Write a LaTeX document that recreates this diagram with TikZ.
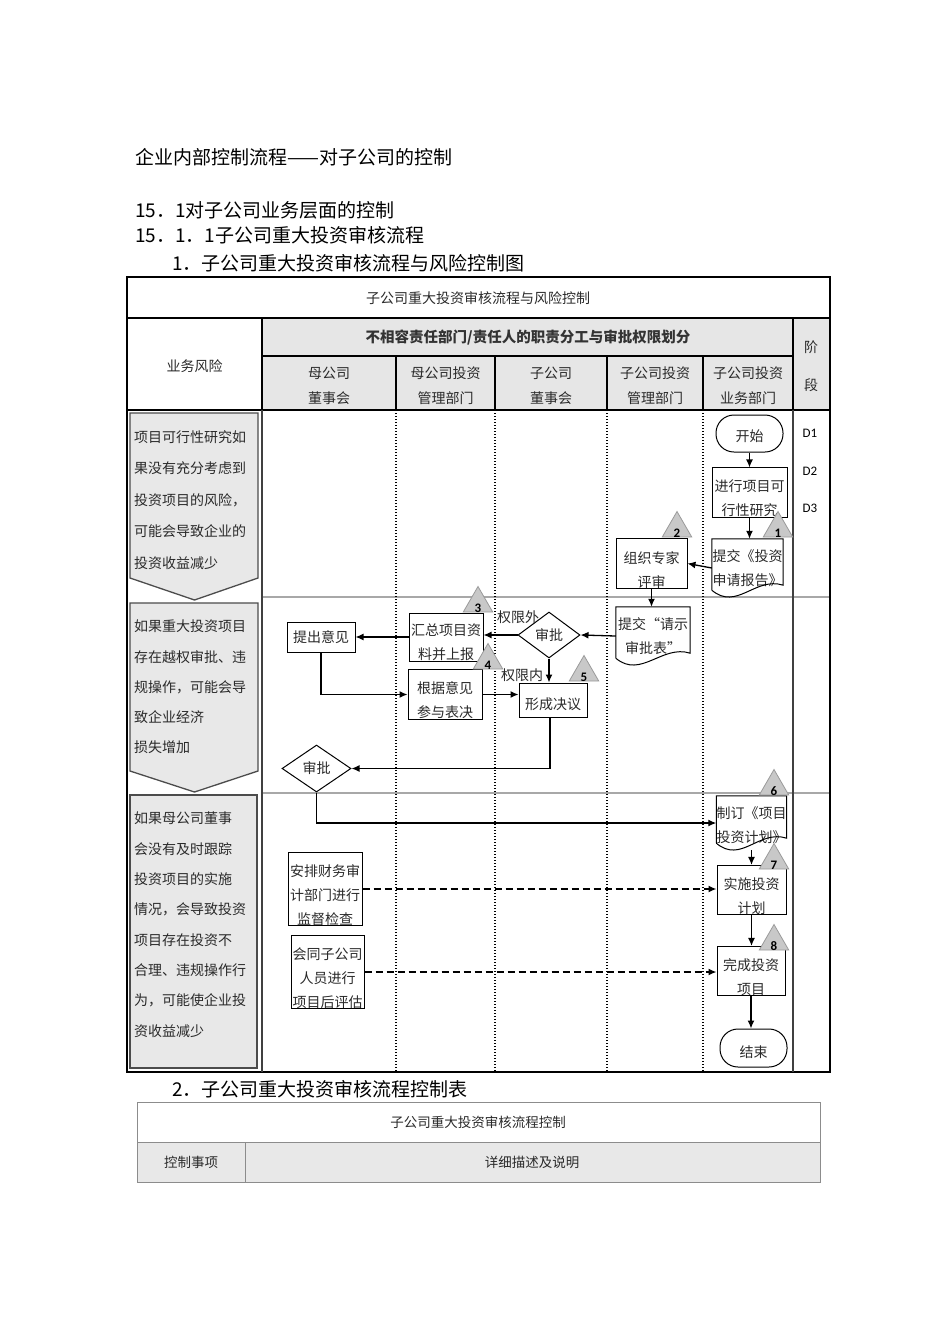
\documentclass[tikz,border=0pt]{standalone}
\usepackage{fontspec}
\setmainfont{Noto Sans CJK SC}
\newfontfamily\calib{Carlito}
\usetikzlibrary{shapes.geometric,arrows.meta}
\definecolor{hdr}{HTML}{E6E6E6}
\definecolor{riskfill}{HTML}{E8E8E8}
\definecolor{trifill}{HTML}{C8C8C8}
\definecolor{tridraw}{HTML}{9A9A9A}
\definecolor{txt}{HTML}{2A2A2A}
\definecolor{gline}{HTML}{A8A8A8}
\newcommand\fs[2]{\fontsize{#1}{#2}\selectfont}
\newcommand\vsh[1]{\rule{0pt}{#1pt}}
\newcommand\docdraw[1]{%
  \draw[line width=1pt] ([yshift=7pt]#1.south west) -- (#1.north west) -- (#1.north east)
    -- ([yshift=12pt]#1.south east)
    .. controls ([xshift=-28pt,yshift=21pt]#1.south east) and ([xshift=25pt,yshift=-14pt]#1.south west)
    .. ([yshift=7pt]#1.south west);}
\begin{document}
\begin{tikzpicture}[x=1pt,y=-1pt,
  every node/.style={inner sep=0pt},
  heading/.style={anchor=west, font=\fs{19}{19}, text=black},
  cell/.style={align=center, font=\fs{14}{25}, text=txt},
  box/.style={draw, line width=1pt, fill=white, align=center, font=\fs{14}{24}, text=txt},
  docnode/.style={align=center, font=\fs{14}{24}, text=txt},
  term/.style={box, rounded corners=18pt},
  dia/.style={diamond, draw, line width=1pt, fill=white, font=\fs{14}{14}, text=txt},
  tri/.style={regular polygon, regular polygon sides=3, fill=trifill, draw=tridraw, line width=0.8pt, minimum size=34pt},
  tnum/.style={font=\calib\bfseries\fs{13}{13}, text=black},
  arr/.style={line width=1.3pt, -{Latex[length=8pt,width=7pt]}},
  darr/.style={line width=1.5pt, -{Latex[length=8pt,width=7pt]}, dash pattern=on 7pt off 4pt},
  lane/.style={line width=1.7pt, dash pattern=on 1.4pt off 1.6pt},
  risk/.style={fill=riskfill, draw=black!70, line width=1.3pt},
  risktext/.style={anchor=north west, align=left, text=txt},
  lbl/.style={font=\fs{14}{14}, text=txt}
]
\useasboundingbox (0,0) rectangle (950,1344);
\fill[white] (0,0) rectangle (950,1344);

% headings
\node[heading] (h1) at (135,157) {企业内部控制流程——对子公司的控制};
\node[heading] (h2) at (135,210) {15．1对子公司业务层面的控制};
\node[heading] (h3) at (135,235) {15．1．1子公司重大投资审核流程};
\node[heading] (h4) at (172,263) {1．子公司重大投资审核流程与风险控制图};
\node[heading] (h5) at (172,1089) {2．子公司重大投资审核流程控制表};

% table frame
\fill[hdr] (262,318) rectangle (830,410);
\draw[line width=1.2pt, gline] (262,597) -- (830,597);
\draw[line width=1.2pt, gline] (262,793) -- (830,793);
\foreach \x in {396,495,607,703} \draw[lane] (\x,410) -- (\x,1072);
\draw[line width=1.5pt] (127,277) rectangle (830,1072);
\draw[line width=1.5pt] (127,318) -- (830,318);
\draw[line width=1.6pt] (127,410) -- (830,410);
\draw[line width=1.5pt] (262,318) -- (262,410);
\draw[line width=1.2pt, black!75] (262,410) -- (262,1072);
\draw[line width=1.5pt] (793,318) -- (793,410);
\draw[line width=1.2pt, black!75] (793,410) -- (793,1072);
\draw[line width=1.5pt] (262,356) -- (793,356);
\foreach \x in {396,495,607,703} \draw[line width=1.5pt] (\x,356) -- (\x,410);

% header texts
\node[lbl] (title) at (478,298) {子公司重大投资审核流程与风险控制};
\node[lbl, font=\fs{14.5}{14.5}\bfseries, text=black!80] (sep) at (528,338) {不相容责任部门/责任人的职责分工与审批权限划分};
\node[lbl] (risk) at (194.5,366) {业务风险};
\node[cell] (c1) at (329,385.5) {母公司\\董事会};
\node[cell] (c2) at (445.5,385.5) {母公司投资\\管理部门};
\node[cell] (c3) at (551,385.5) {子公司\\董事会};
\node[cell] (c4) at (655,385.5) {子公司投资\\管理部门};
\node[cell] (c5) at (748,385.5) {子公司投资\\业务部门};
\node[lbl] (s1) at (811,347) {阶};
\node[lbl] (s2) at (811,385) {段};
\node[font=\calib\fs{13}{13}, text=black] (d1) at (810,433) {D1};
\node[font=\calib\fs{13}{13}, text=black] (d2) at (810,471) {D2};
\node[font=\calib\fs{13}{13}, text=black] (d3) at (810,508) {D3};

% risk shapes
\draw[risk] (130,413) -- (258,413) -- (258,578) -- (194.5,600) -- (130,578) -- cycle;
\draw[risk] (130,603) -- (258,603) -- (258,771) -- (194.5,792) -- (130,771) -- cycle;
\draw[risk] (130,795) rectangle (257,1068);
\node[risktext, font=\fs{14}{31.5}] (r1) at (134,430) {项目可行性研究如\\果没有充分考虑到\\投资项目的风险，\\可能会导致企业的\\投资收益减少};
\node[risktext, font=\fs{14}{30.25}] (r2) at (134,620) {如果重大投资项目\\存在越权审批、违\\规操作，可能会导\\致企业经济\\损失增加};
\node[risktext, font=\fs{14}{30.3}] (r3) at (134,812) {如果母公司董事\\会没有及时跟踪\\投资项目的实施\\情况，会导致投资\\项目存在投资不\\合理、违规操作行\\为，可能使企业投\\资收益减少};

% flow nodes
\node[term, minimum width=67pt, minimum height=37pt] (start) at (749.5,433.5) {\vsh{18}开始};
\node[box, minimum width=75pt, minimum height=47pt] (feas) at (749.5,492.5) {\vsh{24}进行项目可\\行性研究};
\node[docnode, minimum width=71pt, minimum height=58pt] (rep) at (747.5,568) {提交《投资\\申请报告》};
\node[box, minimum width=71pt, minimum height=49pt] (expert) at (651.5,563.5) {\vsh{25}组织专家\\评审};
\node[docnode, minimum width=74pt, minimum height=58pt] (req) at (653,636) {提交“请示\\审批表”};
\node[dia, minimum width=62pt, minimum height=46pt] (dia1) at (549,635) {审批};
\node[box, minimum width=74pt, minimum height=48pt] (sum) at (446,637) {\vsh{22}汇总项目资\\料并上报};
\node[box, minimum width=68pt, minimum height=30pt] (opinion) at (321,637) {提出意见};
\node[box, minimum width=74pt, minimum height=49pt] (vote) at (445,694.5) {\vsh{24}根据意见\\参与表决};
\node[box, minimum width=68pt, minimum height=34pt] (reso) at (553,700) {\vsh{20}形成决议};
\node[dia, minimum width=69pt, minimum height=47pt] (dia2) at (316.5,768.5) {审批};
\node[docnode, minimum width=69pt, minimum height=54pt] (plan) at (751.5,823) {\vsh{16}制订《项目\\投资计划》};
\node[box, minimum width=69pt, minimum height=46pt] (impl) at (751.5,890) {\vsh{24}实施投资\\计划};
\node[box, minimum width=68pt, minimum height=46pt] (done) at (751,971) {\vsh{24}完成投资\\项目};
\node[term, minimum width=67pt, minimum height=38pt] (end) at (753.5,1048) {\vsh{20}结束};
\node[box, minimum width=74pt, minimum height=72pt] (audit) at (325,889) {\vsh{24}安排财务审\\计部门进行\\监督检查};
\node[box, minimum width=73pt, minimum height=72pt] (post) at (327.5,972) {\vsh{24}会同子公司\\人员进行\\项目后评估};
\docdraw{rep}
\docdraw{req}
\docdraw{plan}

\node[lbl] (out) at (518,617) {权限外};
\node[lbl] (in) at (522,675) {权限内};

% connectors
\draw[arr] (start.south) -- (feas.north);
\draw[arr] (feas.south) -- (feas.south |- rep.north);
\draw[arr] (rep.west) -- (expert.east);
\draw[arr] (expert.south) -- (expert.south |- req.north);
\draw[arr] (req.west) -- (dia1.east);
\draw[arr] (dia1.west) -- (dia1.west -| sum.east);
\draw[arr] (sum.west) -- (sum.west -| opinion.east);
\draw[arr] (opinion.south) |- (vote.west);
\draw[arr] (dia1.south) -- (dia1.south |- reso.north);
\draw[arr] (vote.east) -- (vote.east -| reso.west);
\draw[arr] ([xshift=-3pt]reso.south) |- (dia2.east);
\draw[arr] (dia2.south) |- (plan.west);
\draw[arr] (plan.south) -- (plan.south |- impl.north);
\draw[arr] (impl.south) -- (impl.south |- done.north);
\draw[arr] (done.south) -- (done.south |- end.north);
\draw[darr] (audit.east) -- (audit.east -| impl.west);
\draw[darr] (post.east) -- (post.east -| done.west);

% control point triangles
\node[tri] (t1) at (778,528.5) {};
\node[tri] (t2) at (677,528.5) {};
\node[tri] (t3) at (478,603.5) {};
\node[tri] (t4) at (488,660.5) {};
\node[tri] (t5) at (584,672.5) {};
\node[tri] (t6) at (774,786.5) {};
\node[tri] (t7) at (774,860.5) {};
\node[tri] (t8) at (774,941.5) {};
\node[tnum] (n1) at (778,533) {1};
\node[tnum] (n2) at (677,533) {2};
\node[tnum] (n3) at (478,608) {3};
\node[tnum] (n4) at (488,665) {4};
\node[tnum] (n5) at (584,677) {5};
\node[tnum] (n6) at (774,791) {6};
\node[tnum] (n7) at (774,865) {7};
\node[tnum] (n8) at (774,946) {8};

% table 2
\fill[riskfill] (137,1142) rectangle (820,1182);
\draw[line width=1pt, black!45] (137,1102) rectangle (820,1182);
\draw[line width=1pt, black!45] (137,1142) -- (820,1142);
\draw[line width=1pt, black!45] (245,1142) -- (245,1182);
\node[lbl, font=\fs{13.5}{13.5}] (tt) at (478,1122) {子公司重大投资审核流程控制};
\node[lbl, font=\fs{13.5}{13.5}] (k1) at (191,1162) {控制事项};
\node[lbl, font=\fs{13.5}{13.5}] (k2) at (532,1162) {详细描述及说明};
\end{tikzpicture}
\end{document}
